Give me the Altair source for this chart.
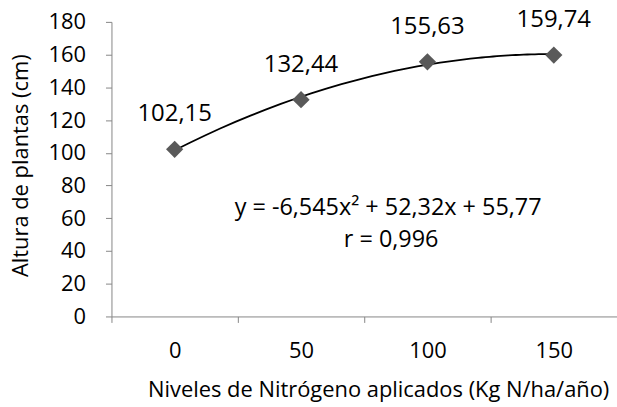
import altair as alt
import pandas as pd

# Nitrogen levels (kg N/ha/año), category index and plant height (cm)
niveles = [0, 50, 100, 150]
indice = [1, 2, 3, 4]
altura = [102.15, 132.44, 155.63, 159.74]
etiquetas = ["102,15", "132,44", "155,63", "159,74"]

ecuacion = "y = -6,545x\u00b2 + 52,32x + 55,77"
coef_r = "r = 0,996"

FONT = "Open Sans"
AXIS_GRAY = "#868686"
MARK_GRAY = "#595959"

df = pd.DataFrame({"nivel": niveles, "idx": indice, "altura": altura, "etiqueta": etiquetas})

y_scale = alt.Scale(domain=[0, 180], nice=False, zero=True)
y_axis = alt.Axis(
    values=list(range(0, 181, 20)),
    grid=False,
    domainColor=AXIS_GRAY,
    tickColor=AXIS_GRAY,
    tickSize=6,
    labelPadding=20,
    labelFont=FONT,
    labelFontSize=22,
    labelColor="black",
    title="Altura de plantas (cm)",
    titleFont=FONT,
    titleFontSize=22,
    titleFontWeight="normal",
    titleColor="black",
    titleX=-79,
    titleY=144,
    titleAngle=270,
    titleBaseline="bottom",
    titleAlign="center",
)

x_band = alt.X(
    "nivel:O",
    scale=alt.Scale(type="band", paddingInner=0, paddingOuter=0),
    axis=alt.Axis(
        tickBand="extent",
        labelAngle=0,
        domainColor=AXIS_GRAY,
        tickColor=AXIS_GRAY,
        tickSize=6,
        labelPadding=18,
        labelFont=FONT,
        labelFontSize=22,
        labelColor="black",
        title="Niveles de Nitrógeno aplicados (Kg N/ha/año)",
        titleFont=FONT,
        titleFontSize=22,
        titleFontWeight="normal",
        titleColor="black",
        titleX=268,
        titleY=80,
        titleBaseline="alphabetic",
        titleAlign="center",
    ),
)

base = alt.Chart(df)

# Second-order polynomial trend line fitted over the category index
tendencia = (
    base.transform_regression("idx", "altura", method="poly", order=2)
    .mark_line(color="black", strokeWidth=1.8)
    .encode(
        x=alt.X("idx:Q", scale=alt.Scale(domain=[0.5, 4.5], nice=False, zero=False), axis=None),
        y=alt.Y("altura:Q", scale=y_scale, axis=y_axis),
    )
)

puntos = base.mark_point(shape="diamond", filled=True, size=300, color=MARK_GRAY, opacity=1).encode(
    x=x_band,
    y=alt.Y("altura:Q", scale=y_scale, axis=y_axis),
)

valores = base.mark_text(font=FONT, fontSize=24, color="black", baseline="middle", dy=-35).encode(
    x=x_band,
    y=alt.Y("altura:Q", scale=y_scale, axis=y_axis),
    text="etiqueta:N",
)

# Points and their value labels share one category axis
categorias = alt.layer(puntos, valores)

eq_text = alt.Chart(pd.DataFrame({"t": [ecuacion]})).mark_text(
    font=FONT, fontSize=23.5, color="black", baseline="middle", align="center"
).encode(text="t:N", x=alt.value(278), y=alt.value(187))

r_text = alt.Chart(pd.DataFrame({"t": [coef_r]})).mark_text(
    font=FONT, fontSize=23.5, color="black", baseline="middle", align="center"
).encode(text="t:N", x=alt.value(281), y=alt.value(219))

chart = (
    alt.layer(tendencia, categorias, eq_text, r_text)
    .resolve_scale(x="independent")
    .properties(
        width=508,
        height=296,
        autosize=alt.AutoSizeParams(type="none"),
        padding={"left": 112, "top": 21, "right": 0, "bottom": 90},
        background="white",
    )
    .configure_view(stroke=None)
)

chart.save("out.html", embed_options={"renderer": "svg", "actions": False})
